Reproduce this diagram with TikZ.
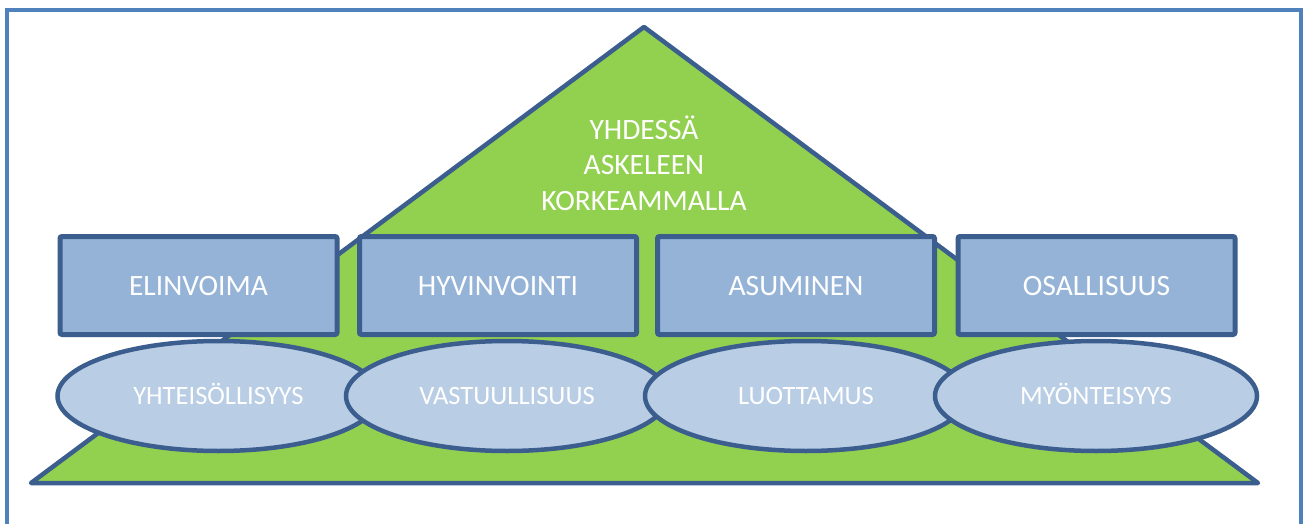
\documentclass[tikz,border=0pt]{standalone}
\usepackage{fontspec}
\setmainfont{Carlito}
\usepackage{tikz}
\usetikzlibrary{calc,positioning,shapes.geometric}
\definecolor{frameBlue}{HTML}{4F81BD}
\definecolor{edgeBlue}{HTML}{3B5E8E}
\definecolor{roofGreen}{HTML}{92D050}
\definecolor{boxBlue}{HTML}{95B3D7}
\definecolor{ovalBlue}{HTML}{B9CDE5}
\tikzset{
  pillarBox/.style={draw=edgeBlue, fill=boxBlue, line width=5pt, rounded corners=2pt,
    minimum width=277pt, minimum height=98pt, inner sep=0pt, text height=19pt, text depth=0pt,
    text=white, font=\fontsize{29.5}{34}\selectfont},
  valueOval/.style={ellipse, draw=edgeBlue, fill=ovalBlue, line width=4.5pt,
    minimum width=322pt, minimum height=110pt, inner sep=0pt, text height=17pt, text depth=0pt,
    text=white, font=\fontsize{26.5}{30}\selectfont}
}
\begin{document}
\begin{tikzpicture}[x=1pt,y=-1pt]
        \useasboundingbox (0,0) rectangle (1304,524);
        % Outer frame (bottom edge runs off the page)
        \begin{scope}
          \clip (0,0) rectangle (1304,524);
          \draw[frameBlue, line width=4pt] (7,10) rectangle (1301,540);
        \end{scope}
        % Green roof triangle
        \coordinate (Apex) at (644,27);
        \coordinate (BaseL) at (31,483);
        \coordinate (BaseR) at (1258,483);
        \draw[edgeBlue, fill=roofGreen, line width=4.5pt, line join=round] (Apex) -- (BaseR) -- (BaseL) -- cycle;
        \node[text=white, align=center, font=\fontsize{29.5}{35.5}\selectfont] (motto) at (644,163)
          {YHDESSÄ\\ASKELEEN\\KORKEAMMALLA};
        % Pillars
        \node[pillarBox] (elinvoima) at (198.5,285.5) {ELINVOIMA};
        \node[pillarBox] (hyvinvointi) at (498,285.5) {HYVINVOINTI};
        \node[pillarBox] (asuminen) at (796,285.5) {ASUMINEN};
        \node[pillarBox] (osallisuus) at (1096.5,285.5) {OSALLISUUS};
        % Foundation values
        \node[valueOval] (yhteisollisyys) at (218.5,396) {YHTEISÖLLISYYS};
        \node[valueOval] (vastuullisuus) at (507,396) {VASTUULLISUUS};
        \node[valueOval] (luottamus) at (806,396) {LUOTTAMUS};
        \node[valueOval] (myonteisyys) at (1096,396) {MYÖNTEISYYS};
      \end{tikzpicture}
\end{document}
